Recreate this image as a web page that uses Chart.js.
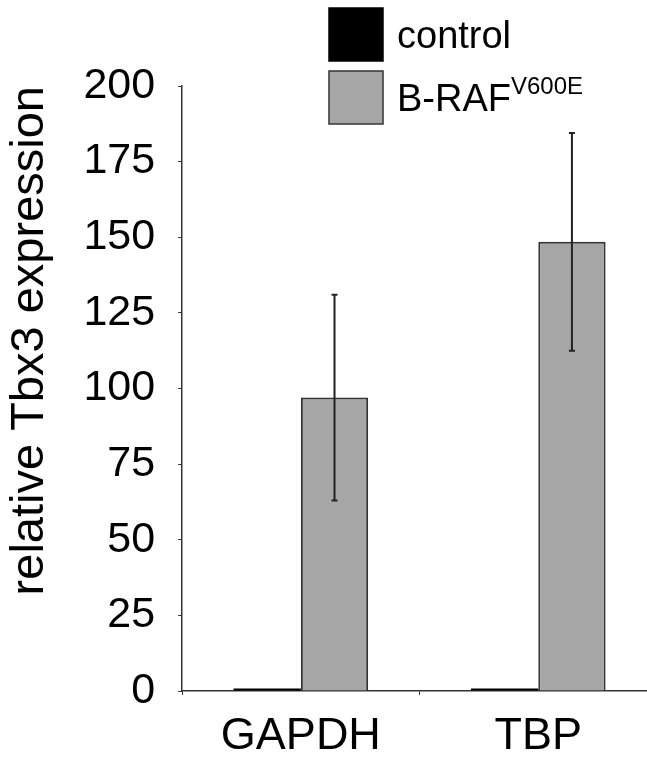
<!DOCTYPE html>
<html>
<head>
<meta charset="utf-8">
<script src="https://cdn.jsdelivr.net/npm/chart.js@4/dist/chart.umd.min.js"></script>
<style>
  html, body { margin: 0; padding: 0; background: #fff; overflow: hidden; }
  #wrap { position: relative; width: 660px; height: 761px; }
</style>
</head>
<body>
<div id="wrap"><canvas id="chart"></canvas></div>
<script>
// data
var genes = ["GAPDH", "TBP"];
var controlValues = [0.8, 0.8];
var brafValues = [97, 148.5];
var brafErrors = [34, 36];
var yTicks = [0, 25, 50, 75, 100, 125, 150, 175, 200];

var FONT = "'Liberation Sans', Arial, sans-serif";

// error bars for the B-RAF series
var errorBars = {
  id: "errorBars",
  afterDatasetsDraw: function (chart) {
    var meta = chart.getDatasetMeta(1);
    var y = chart.scales.y;
    var ctx = chart.ctx;
    ctx.save();
    ctx.strokeStyle = "#222";
    ctx.lineWidth = 2;
    meta.data.forEach(function (bar, i) {
      var top = y.getPixelForValue(brafValues[i] + brafErrors[i]);
      var bot = y.getPixelForValue(brafValues[i] - brafErrors[i]);
      ctx.beginPath();
      ctx.moveTo(bar.x, top);
      ctx.lineTo(bar.x, bot);
      ctx.moveTo(bar.x - 3, top);
      ctx.lineTo(bar.x + 3, top);
      ctx.moveTo(bar.x - 3, bot);
      ctx.lineTo(bar.x + 3, bot);
      ctx.stroke();
    });
    ctx.restore();
  }
};

// legend with a superscript, drawn by hand
var legendBox = {
  id: "legendBox",
  afterDraw: function (chart) {
    var ctx = chart.ctx;
    var ds = chart.data.datasets;
    ctx.save();
    var rows = [8, 71];
    ds.forEach(function (d, i) {
      ctx.fillStyle = d.backgroundColor;
      ctx.fillRect(329, rows[i], 54, 53);
      ctx.strokeStyle = i === 0 ? "#000" : "#333";
      ctx.lineWidth = 1.5;
      ctx.strokeRect(329, rows[i], 54, 53);
    });
    ctx.fillStyle = "#000";
    ctx.textBaseline = "alphabetic";
    ctx.font = "38px " + FONT;
    ctx.fillText("control", 397, 48);
    ctx.fillText("B-RAF", 397, 111);
    var w = ctx.measureText("B-RAF").width;
    ctx.font = "24px " + FONT;
    ctx.fillText("V600E", 397 + w, 94);
    ctx.restore();
  }
};

new Chart(document.getElementById("chart"), {
  type: "bar",
  data: {
    labels: genes,
    datasets: [
      {
        label: "control",
        data: controlValues,
        backgroundColor: "#000",
        borderColor: "#000",
        borderWidth: 0,
        categoryPercentage: 0.567,
        barPercentage: 1.0
      },
      {
        label: "B-RAF V600E",
        data: brafValues,
        backgroundColor: "#a6a6a6",
        borderColor: "#333",
        borderWidth: 2,
        categoryPercentage: 0.567,
        barPercentage: 1.0
      }
    ]
  },
  options: {
    responsive: true,
    maintainAspectRatio: false,
    animation: false,
    layout: { padding: { top: 86, left: 2, right: 3, bottom: -18 } },
    plugins: {
      legend: { display: false },
      tooltip: { enabled: false }
    },
    scales: {
      x: {
        grid: { offset: true, drawOnChartArea: false, tickLength: 4, color: "#333" },
        border: { color: "#333", width: 1.5 },
        ticks: { color: "#000", font: { family: FONT, size: 45 }, padding: 15, maxRotation: 0 }
      },
      y: {
        min: 0,
        max: 200,
        afterBuildTicks: function (axis) {
          axis.ticks = yTicks.map(function (v) { return { value: v }; });
        },
        grid: { drawOnChartArea: false, tickLength: 4, color: "#333" },
        border: { color: "#333", width: 1.5 },
        ticks: { color: "#000", font: { family: FONT, size: 43 }, padding: 23 },
        title: {
          display: true,
          text: "relative Tbx3 expression",
          align: "end",
          color: "#000",
          font: { family: FONT, size: 47 },
          padding: { top: 0, bottom: 2 }
        }
      }
    }
  },
  plugins: [errorBars, legendBox]
});
</script>
</body>
</html>
